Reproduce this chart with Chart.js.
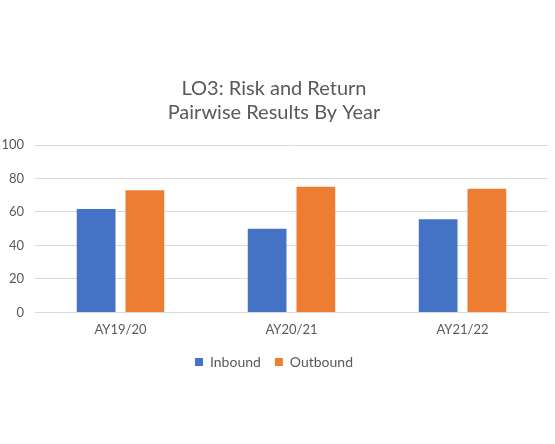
<!DOCTYPE html>
<html>
<head>
<meta charset="utf-8">
<script src="https://cdn.jsdelivr.net/npm/chart.js@4/dist/chart.umd.min.js"></script>
<style>
  html, body { margin: 0; padding: 0; background: #fff; }
  #wrap { width: 555px; height: 444px; }
</style>
</head>
<body>
<div id="wrap"><canvas id="pairwiseChart"></canvas></div>
<script>
const years = ['AY19/20', 'AY20/21', 'AY21/22'];
const inbound = [61.7, 50, 55.7];
const outbound = [73, 75, 73.8];
const yTicks = [0, 20, 40, 60, 80, 100];

Chart.defaults.font.family = "Lato, 'Open Sans', sans-serif";
Chart.defaults.color = '#595959';

const ctx = document.getElementById('pairwiseChart').getContext('2d');

new Chart(ctx, {
    type: 'bar',
    data: {
        labels: years,
        datasets: [
            { label: 'Inbound', data: inbound, backgroundColor: '#4472C4' },
            { label: 'Outbound', data: outbound, backgroundColor: '#ED7D31' }
        ]
    },
    options: {
        responsive: true,
        maintainAspectRatio: false,
        animation: false,
        categoryPercentage: 0.57,
        barPercentage: 0.795,
        layout: { padding: { top: 0, left: 0, right: 7, bottom: 65 } },
        plugins: {
            title: {
                display: true,
                text: ['LO3: Risk and Return', 'Pairwise Results By Year'],
                font: { size: 20, weight: 'normal' },
                lineHeight: 1.2,
                color: '#595959',
                padding: { top: 77, bottom: 20 }
            },
            legend: {
                position: 'bottom',
                labels: {
                    boxWidth: 8,
                    boxHeight: 8,
                    padding: 14,
                    font: { size: 14 },
                    color: '#595959'
                }
            },
            tooltip: { enabled: false }
        },
        scales: {
            y: {
                min: 0,
                max: 100,
                afterBuildTicks: (scale) => { scale.ticks = yTicks.map(v => ({ value: v })); },
                afterFit: (scale) => { scale.width = 35; },
                grid: { color: '#D9D9D9', drawTicks: false },
                border: { display: false },
                ticks: { padding: 11, font: { size: 13 }, color: '#595959' }
            },
            x: {
                // pull the legend a little closer to the axis labels
                afterFit: (scale) => { scale.height -= 7; },
                grid: { display: false, drawTicks: false },
                border: { color: '#D9D9D9' },
                ticks: { padding: 10, font: { size: 13 }, color: '#595959' }
            }
        }
    }
});
</script>
</body>
</html>
